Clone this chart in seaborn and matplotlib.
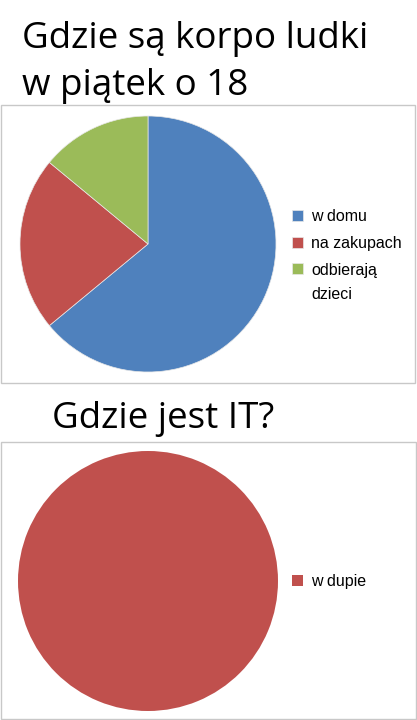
import matplotlib
matplotlib.use("Agg")
import matplotlib.pyplot as plt
from matplotlib.patches import Rectangle
import seaborn as sns

# data
top_labels = ["w domu", "na zakupach", "odbierają\ndzieci"]
top_values = [64, 22, 14]
top_colors = ["#4F81BD", "#C0504D", "#9BBB59"]

bottom_labels = ["w dupie"]
bottom_values = [100]
bottom_colors = ["#C0504D"]

title_top = "Gdzie są korpo ludki\nw piątek o 18"
title_bottom = "Gdzie jest IT?"

sns.set_theme(style="white")
plt.rcParams['font.family'] = ['Open Sans', 'DejaVu Sans']
plt.rcParams['text.color'] = 'black'

W, H = 417, 720
fig = plt.figure(figsize=(W / 100, H / 100), dpi=100)


def fx(x):
    return x / W


def fy(y):
    return 1 - y / H


# chart frames
for (x0, y0, x1, y1) in [(0.5, 105, 415, 383), (0.5, 442, 416, 719)]:
    fig.patches.append(Rectangle((fx(x0), fy(y1)), fx(x1 - x0), (y1 - y0) / H,
                                 transform=fig.transFigure, fill=False,
                                 edgecolor="#C8C8C8", linewidth=1))


def draw_pie(cx, cy, r, values, colors, labels, leg_x, leg_y, edge):
    ax = fig.add_axes([fx(cx - r), fy(cy + r), 2 * r / W, 2 * r / H])
    wedges, _ = ax.pie(values, colors=colors, startangle=90, counterclock=False,
                       wedgeprops=dict(linewidth=edge, edgecolor="#E8E8E8"))
    ax.set_xlim(-1, 1)
    ax.set_ylim(-1, 1)
    ax.set_aspect("auto")
    leg = fig.legend(wedges, labels, loc="upper left",
                     bbox_to_anchor=(fx(leg_x), fy(leg_y)), frameon=False,
                     prop={'family': ['Liberation Sans'], 'size': 11.5},
                     handlelength=0.7, handleheight=0.7, handletextpad=0.5,
                     labelspacing=0.75, borderpad=0, borderaxespad=0,
                     labelcolor="black")
    for t in leg.get_texts():
        t.set_linespacing(1.75)
    # keep the marker next to the first line of a wrapped label
    for col in leg._legend_handle_box.get_children():
        for item in col.get_children():
            txt = item.get_children()[1].get_children()[0]
            if "\n" in txt.get_text():
                item.align = "top"
    return ax


draw_pie(148, 244, 128, top_values, top_colors, top_labels, 292, 209, 0.5)
draw_pie(148, 581, 130, bottom_values, bottom_colors, bottom_labels, 292, 574, 0)

fig.text(fx(22), fy(48), title_top.split("\n")[0], fontsize=26.5, va="baseline", ha="left")
fig.text(fx(22), fy(95), title_top.split("\n")[1], fontsize=26.5, va="baseline", ha="left")
fig.text(fx(163), fy(428), title_bottom, fontsize=26.5, va="baseline", ha="center")

fig.savefig("out.png", dpi=100)
